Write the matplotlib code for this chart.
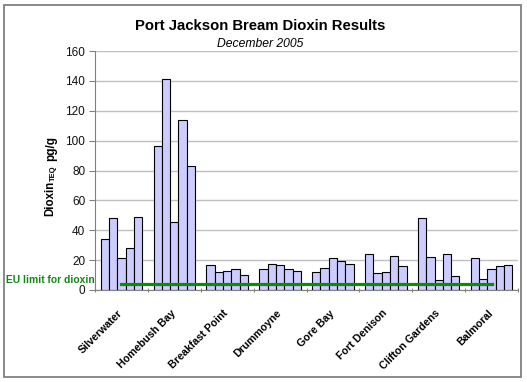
import matplotlib
matplotlib.use("Agg")
import matplotlib.pyplot as plt
import matplotlib.transforms as mtransforms
import numpy as np
from matplotlib.patches import Rectangle

plt.rcParams['font.family'] = ['Liberation Sans', 'DejaVu Sans']

sites = ["Silverwater", "Homebush Bay", "Breakfast Point", "Drummoyne",
         "Gore Bay", "Fort Denison", "Clifton Gardens", "Balmoral"]
sample1 = [34.4, 96.4, 16.6, 14.3, 12.3, 23.9, 48.5, 21.3]
sample2 = [47.9, 141.1, 11.9, 17.2, 14.5, 11.2, 21.9, 7.4]
sample3 = [21.3, 45.4, 12.5, 16.6, 21.3, 12.3, 6.5, 13.9]
sample4 = [28.4, 113.9, 14.3, 14.3, 19.2, 22.6, 23.9, 15.9]
sample5 = [48.8, 82.8, 9.8, 12.5, 17.2, 15.9, 9.2, 16.6]
eu_limit = [4] * len(sites)
y_ticks = [0, 20, 40, 60, 80, 100, 120, 140, 160]

samples = [sample1, sample2, sample3, sample4, sample5]

W, H = 527, 382
fig = plt.figure(figsize=(W / 100, H / 100), dpi=100)
fig.patch.set_facecolor('white')

# outer border
fig.patches.append(Rectangle((4 / W, 5 / H), 517 / W, 372 / H, transform=fig.transFigure,
                             fill=False, edgecolor='#808080', linewidth=1.3))

ax = fig.add_axes([95 / W, (H - 290) / H, 423 / W, 239 / H])
n = len(sites)
centers = np.arange(n) + 0.5
bw = 0.157
for j, s in enumerate(samples):
    ax.bar(centers + (j - 2) * bw, s, width=bw, color='#CCCCFF',
           edgecolor='black', linewidth=0.8, zorder=3)

ax.plot(centers, eu_limit, color='#118811', linewidth=2.3, zorder=4)

ax.set_xlim(0, n)
ax.set_ylim(0, 160)
ax.set_yticks(y_ticks)
ax.yaxis.grid(True, color='#C0C0C0', linewidth=1.0, zorder=0)
ax.set_axisbelow(True)
ax.tick_params(axis='y', labelsize=8.5, length=4, color='#808080', pad=3, labelcolor='#111111')

ax.set_xticks(np.arange(n + 1))
ax.set_xticklabels([])
ax.tick_params(axis='x', which='major', length=3, direction='inout', color='#808080')
ax.set_xticks(centers, minor=True)
ax.set_xticklabels(sites, minor=True, rotation=45, ha='right', rotation_mode='anchor',
                   fontsize=7.7, fontweight='bold')
ax.tick_params(axis='x', which='minor', length=0, pad=13)
off = mtransforms.ScaledTranslation(-4 / 100, 0, fig.dpi_scale_trans)
for lbl in ax.get_xticklabels(minor=True):
    lbl.set_transform(lbl.get_transform() + off)

for sp in ['top', 'right']:
    ax.spines[sp].set_visible(False)
for sp in ['left', 'bottom']:
    ax.spines[sp].set_color('#808080')

# titles
fig.text(260 / W, 1 - 26 / H, "Port Jackson Bream Dioxin Results", ha='center', va='center',
         fontsize=10.7, fontweight='bold')
fig.text(260 / W, 1 - 44 / H, "December 2005", ha='center', va='center',
         fontsize=8.7, style='italic')

# y label pieces
fig.text(50.7 / W, 1 - 198.5 / H, "Dioxin", rotation=90, ha='center', va='center',
         fontsize=8.3, fontweight='bold')
fig.text(53 / W, 1 - 173 / H, "TEQ", rotation=90, ha='center', va='center',
         fontsize=5.5, fontweight='bold')
fig.text(50.7 / W, 1 - 148 / H, "pg/g", rotation=90, ha='center', va='center',
         fontsize=8.5, fontweight='bold')

# EU label
fig.text(95 / W, 1 - 280 / H, "EU limit for dioxin", ha='right', va='center',
         fontsize=7.4, fontweight='bold', color='#118811')

fig.savefig("out.png", dpi=100)
